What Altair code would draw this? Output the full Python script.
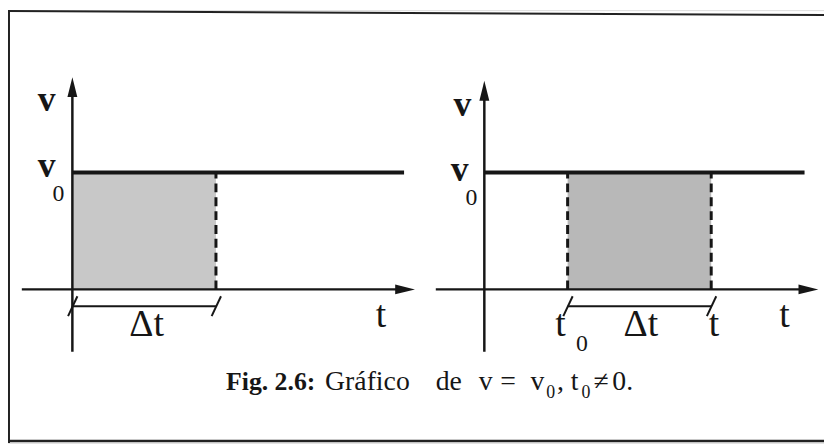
import altair as alt
import pandas as pd

# ---- data (panel-local units: Δt = 10 time units, v0 = 1) ----
panels = ["left", "right"]
panel_offset = [0.0, 28.69]          # where each panel's origin sits on the shared t-axis

V0 = 1.0
shade_start = [0.0, 5.8]             # t0 of the shaded area
shade_end = [10.0, 15.8]             # t of the shaded area
shade_color = ["#c8c8c8", "#b8b8b8"]
v0_line_end = [23.1, 22.3]
t_axis_start = [-3.52, -3.38]
t_axis_end = [23.2, 22.6]
v_axis_bottom = [-0.534, -0.534]
v_axis_top = [1.73, 1.70]
bracket_v = -0.144

# labels: panel, t, v, text, font size, bold
label_panel = ["left", "left", "left", "left", "left",
               "right", "right", "right", "right", "right", "right", "right", "right"]
label_t = [-1.79, -1.79, -0.97, 5.17, 21.5,
           -1.52, -1.72, -0.90, 5.31, 6.8, 10.9, 16.0, 20.9]
label_v = [1.525, 0.965, 0.755, -0.398, -0.322,
           1.483, 0.93, 0.72, -0.398, -0.525, -0.398, -0.398, -0.322]
label_text = ["v", "v", "0", "Δt", "t",
              "v", "v", "0", "t", "0", "Δt", "t", "t"]
label_size = [36, 36, 24, 38, 38,
              36, 36, 24, 38, 24, 38, 38, 38]
label_bold = [True, True, False, False, False,
              True, True, False, False, False, False, False, False]

# caption pieces (left-panel units), left aligned
cap_text = ["Fig. 2.6:", "Gráfico", "de", "v", "=", "v", "0", ",", "t", "0", "≠", "0."]
cap_t = [10.7, 17.6, 25.3, 28.3, 29.8, 31.9, 33.0, 33.75, 34.7, 35.45, 36.3, 37.6]
cap_v = [-0.864, -0.864, -0.864, -0.864, -0.864, -0.864, -0.932, -0.864, -0.864, -0.932, -0.864, -0.864]
cap_size = [26, 28, 28, 28, 28, 28, 18, 28, 28, 18, 28, 28]
cap_bold = [True, False, False, False, False, False, False, False, False, False, False, False]

INK = "#161616"
off = dict(zip(panels, panel_offset))

# ---- build tables ----
seg_rows, dash_rows, arrow_v_rows, arrow_h_rows, shade_rows = [], [], [], [], []
for i, p in enumerate(panels):
    o = panel_offset[i]
    seg_rows += [
        dict(x=o, x2=o, y=v_axis_bottom[i], y2=v_axis_top[i], w=2.5),
        dict(x=o + t_axis_start[i], x2=o + t_axis_end[i], y=0, y2=0, w=2.5),
        dict(x=o, x2=o + v0_line_end[i], y=V0, y2=V0, w=4),
        dict(x=o + shade_start[i], x2=o + shade_end[i], y=bracket_v, y2=bracket_v, w=2),
    ]
    for tt in (shade_start[i], shade_end[i]):
        seg_rows.append(dict(x=o + tt - 0.3, x2=o + tt + 0.35,
                             y=bracket_v - 0.085, y2=bracket_v + 0.085, w=2))
    dash_ts = [shade_end[i]] if shade_start[i] == 0 else [shade_start[i], shade_end[i]]
    for tt in dash_ts:
        dash_rows.append(dict(x=o + tt, y=0, y2=V0))
    arrow_v_rows.append(dict(x=o, y=v_axis_top[i]))
    arrow_h_rows.append(dict(x=o + t_axis_end[i] - 0.03, y=0))
    shade_rows.append(dict(x=o + shade_start[i], x2=o + shade_end[i], y=0, y2=V0, c=shade_color[i]))

lab = pd.DataFrame(dict(x=[off[p] + t for p, t in zip(label_panel, label_t)], y=label_v,
                        text=label_text, fs=label_size, bold=label_bold))
cap = pd.DataFrame(dict(x=cap_t, y=cap_v, text=cap_text, fs=cap_size, bold=cap_bold))

W, H = 824, 437
xs = alt.Scale(domain=[-4.483, 52.345], nice=False, zero=False)
ys = alt.Scale(domain=[-1.3136, 2.3898], nice=False, zero=False)
X = lambda f="x": alt.X(f"{f}:Q", scale=xs, axis=None)
Y = lambda f="y": alt.Y(f"{f}:Q", scale=ys, axis=None)

shade = alt.Chart(pd.DataFrame(shade_rows)).mark_rect(opacity=1).encode(
    x=X(), x2="x2:Q", y=Y(), y2="y2:Q", color=alt.Color("c:N", scale=None))
segs = alt.Chart(pd.DataFrame(seg_rows)).mark_rule(color=INK, strokeCap="butt").encode(
    x=X(), x2="x2:Q", y=Y(), y2="y2:Q", strokeWidth=alt.StrokeWidth("w:Q", scale=None))
dashes = alt.Chart(pd.DataFrame(dash_rows)).mark_rule(
    color=INK, strokeWidth=3, strokeDash=[9, 5]).encode(x=X(), y=Y(), y2="y2:Q")
arr_v = alt.Chart(pd.DataFrame(arrow_v_rows)).mark_point(
    shape="M0,-1L0.5,1L-0.5,1Z", filled=True, size=400, color=INK, opacity=1).encode(x=X(), y=Y())
arr_h = alt.Chart(pd.DataFrame(arrow_h_rows)).mark_point(
    shape="M1,0L-1,0.5L-1,-0.5Z", filled=True, size=400, color=INK, opacity=1).encode(x=X(), y=Y())

def texts(df, bold, align):
    return alt.Chart(df[df.bold == bold]).mark_text(
        font="Liberation Serif", fontWeight="bold" if bold else "normal",
        align=align, baseline="alphabetic", color=INK).encode(
        x=X(), y=Y(), text="text:N", size=alt.Size("fs:Q", scale=None))

frame_df = pd.DataFrame(dict(k=[1]))
frame = alt.layer(
    alt.Chart(frame_df).mark_rule(color="#222", strokeWidth=2).encode(
        x=alt.value(0), x2=alt.value(W), y=alt.value(1), y2=alt.value(5)),
    alt.Chart(frame_df).mark_rule(color="#222", strokeWidth=2).encode(
        x=alt.value(1), x2=alt.value(1), y=alt.value(0), y2=alt.value(H)),
    alt.Chart(frame_df).mark_rule(color="#222", strokeWidth=2.5).encode(
        x=alt.value(0), x2=alt.value(W), y=alt.value(H - 2), y2=alt.value(H - 2)),
)

chart = alt.layer(
    shade, segs, dashes, arr_v, arr_h,
    texts(lab, False, "center"), texts(lab, True, "center"),
    texts(cap, True, "left"), texts(cap, False, "left"),
    frame,
).properties(width=W, height=H, padding=0, autosize=alt.AutoSizeParams(type="none")
).configure_view(stroke=None).configure(background="white")

chart.save("out.html", embed_options={"renderer": "svg", "actions": False})
